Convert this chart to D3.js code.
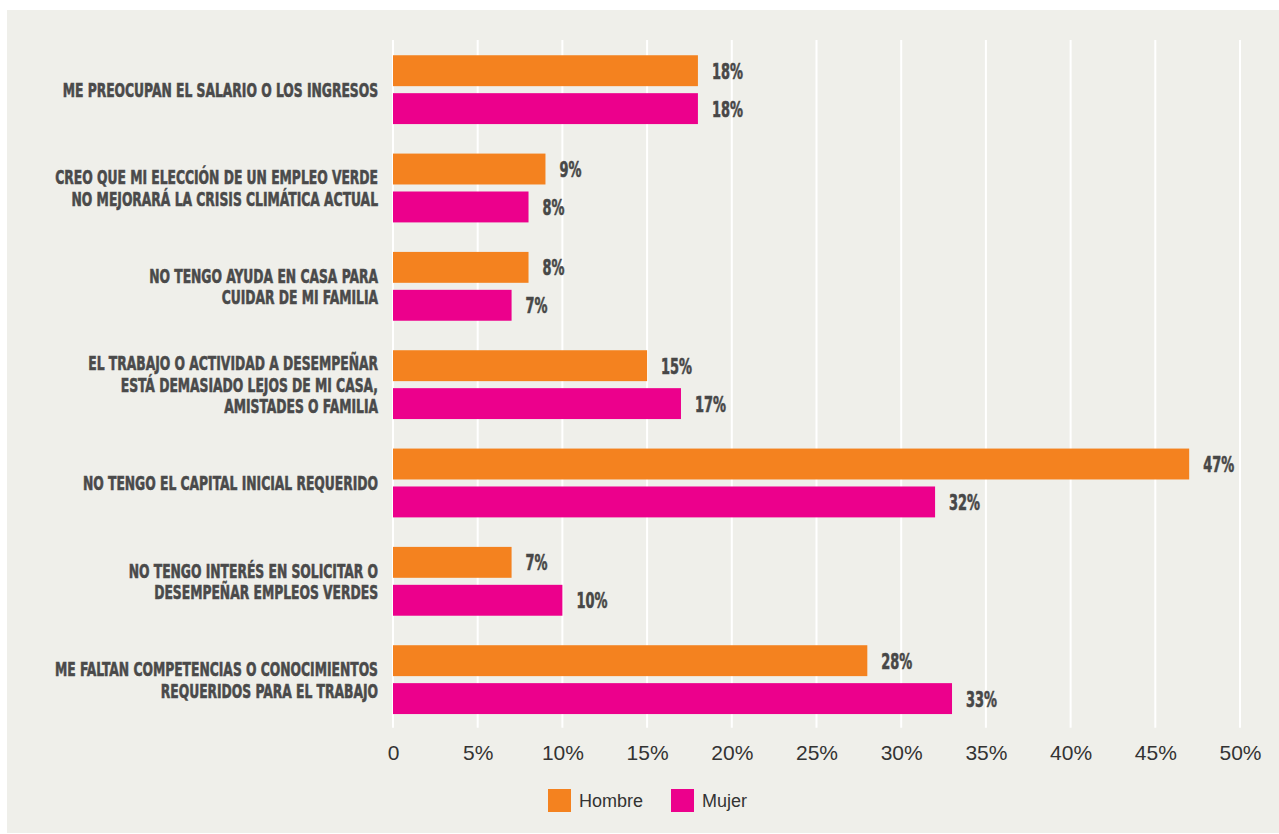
<!DOCTYPE html>
<html lang="es">
<head>
<meta charset="utf-8">
<title>Motivos para no optar a empleos verdes</title>
<script src="https://cdn.jsdelivr.net/npm/d3@7"></script>
<style>
  html, body { margin: 0; padding: 0; background: #ffffff; }
  svg { display: block; }
</style>
</head>
<body>
<svg id="chart" width="1279" height="834"></svg>
<script>
// Survey categories (line breaks marked with "|")
const categories = [
  "ME PREOCUPAN EL SALARIO O LOS INGRESOS",
  "CREO QUE MI ELECCIÓN DE UN EMPLEO VERDE|NO MEJORARÁ LA CRISIS CLIMÁTICA ACTUAL",
  "NO TENGO AYUDA EN CASA PARA|CUIDAR DE MI FAMILIA",
  "EL TRABAJO O ACTIVIDAD A DESEMPEÑAR|ESTÁ DEMASIADO LEJOS DE MI CASA,|AMISTADES O FAMILIA",
  "NO TENGO EL CAPITAL INICIAL REQUERIDO",
  "NO TENGO INTERÉS EN SOLICITAR O|DESEMPEÑAR EMPLEOS VERDES",
  "ME FALTAN COMPETENCIAS O CONOCIMIENTOS|REQUERIDOS PARA EL TRABAJO"
];
const seriesNames = ["Hombre", "Mujer"];
const hombre = [18, 9, 8, 15, 47, 7, 28];
const mujer  = [18, 8, 7, 17, 32, 10, 33];
const tickValues = [0, 5, 10, 15, 20, 25, 30, 35, 40, 45, 50];
const tickLabels = ["0", "5%", "10%", "15%", "20%", "25%", "30%", "35%", "40%", "45%", "50%"];

const colors = { Hombre: "#f4821f", Mujer: "#ec008c" };

const svg = d3.select("#chart");
const W = 1279, H = 834;
const condensed = "'Liberation Sans Narrow', 'DejaVu Sans Condensed', 'Roboto Condensed', sans-serif";

// panel background
svg.append("rect")
  .attr("x", 7).attr("y", 10)
  .attr("width", W - 7).attr("height", H - 11)
  .attr("fill", "#efefea");

const plot = { left: 393, right: 1240, top: 40, bottom: 728.8 };

const x = d3.scaleLinear().domain([0, 50]).range([plot.left, plot.right]);
const y = d3.scaleBand()
  .domain(categories)
  .range([plot.top + 0.5, plot.bottom])
  .paddingInner(0.3)
  .paddingOuter(0.15);
const ySub = d3.scaleBand()
  .domain(seriesNames)
  .range([0, y.bandwidth()])
  .paddingInner(0.185);
const color = d3.scaleOrdinal().domain(seriesNames).range(seriesNames.map(s => colors[s]));

// vertical gridlines
svg.append("g")
  .selectAll("line")
  .data(tickValues)
  .join("line")
  .attr("x1", d => x(d)).attr("x2", d => x(d))
  .attr("y1", plot.top).attr("y2", plot.bottom - 1)
  .attr("stroke", "#ffffff")
  .attr("stroke-width", 2);

// bottom axis labels
const axis = d3.axisBottom(x)
  .tickValues(tickValues)
  .tickSize(0)
  .tickPadding(0)
  .tickFormat((d, i) => tickLabels[i]);
const gAxis = svg.append("g")
  .attr("transform", `translate(0, ${plot.bottom})`)
  .call(axis);
gAxis.select(".domain").remove();
gAxis.selectAll("text")
  .attr("y", 31)
  .attr("dy", null)
  .attr("fill", "#333333")
  .style("font-family", "'Liberation Sans', Arial, Helvetica, sans-serif")
  .style("font-size", "21px");

// rows
const rows = categories.map((c, i) => ({
  category: c,
  values: [
    { series: "Hombre", value: hombre[i] },
    { series: "Mujer", value: mujer[i] }
  ]
}));

const gRow = svg.append("g")
  .selectAll("g.row")
  .data(rows)
  .join("g")
  .attr("class", "row")
  .attr("transform", d => `translate(0, ${y(d.category)})`);

gRow.selectAll("rect")
  .data(d => d.values)
  .join("rect")
  .attr("x", x(0))
  .attr("y", d => ySub(d.series))
  .attr("width", d => x(d.value) - x(0))
  .attr("height", ySub.bandwidth())
  .attr("fill", d => color(d.series));

// value labels (condensed heavy type, squeezed horizontally)
const valTexts = gRow.selectAll("g.val")
  .data(d => d.values)
  .join("g")
  .attr("class", "val")
  .append("text")
  .attr("fill", "#474747")
  .attr("stroke", "#474747")
  .attr("stroke-width", 0.6)
  .style("font-family", condensed)
  .style("font-weight", "bold")
  .style("font-size", "22px")
  .text(d => d.value + "%");

const refVal = valTexts.filter(d => d.value === 18).node();
const valScale = 31 / refVal.getComputedTextLength();
gRow.selectAll("g.val")
  .attr("transform", d => `translate(${x(d.value) + 14}, ${ySub(d.series) + ySub.bandwidth() / 2 + 8}) scale(${valScale}, 1)`);

// category labels
const lineH = 21.6;
const gLab = svg.append("g")
  .selectAll("g.lab")
  .data(categories)
  .join("g")
  .attr("class", "lab");

gLab.append("text")
  .attr("text-anchor", "end")
  .attr("fill", "#4a4a4a")
  .attr("stroke", "#4a4a4a")
  .attr("stroke-width", 0.6)
  .style("font-family", condensed)
  .style("font-weight", "bold")
  .style("font-size", "20px")
  .each(function(d) {
    const lines = d.split("|");
    const t = d3.select(this);
    lines.forEach((ln, k) => {
      t.append("tspan")
        .attr("x", 0)
        .attr("y", (k - (lines.length - 1) / 2) * lineH + 7.2)
        .text(ln);
    });
  });

// squeeze labels so the widest line of the 4th category spans 290px
const refLine = gLab.selectAll("tspan").filter(function() {
  return this.textContent === "EL TRABAJO O ACTIVIDAD A DESEMPEÑAR";
}).node();
const labScale = 290 / refLine.getComputedTextLength();
gLab.attr("transform", d => `translate(378, ${y(d) + y.bandwidth() / 2}) scale(${labScale}, 1)`);

// legend
const legend = svg.append("g").attr("transform", "translate(548, 789)");
const legendX = d3.scalePoint().domain(seriesNames).range([0, 123]);
const li = legend.selectAll("g")
  .data(seriesNames)
  .join("g")
  .attr("transform", d => `translate(${legendX(d)}, 0)`);
li.append("rect")
  .attr("width", 23).attr("height", 23)
  .attr("fill", d => color(d));
li.append("text")
  .attr("x", 31).attr("y", 18)
  .attr("fill", "#333333")
  .style("font-family", "'Liberation Sans', Arial, Helvetica, sans-serif")
  .style("font-size", "18px")
  .text(d => d);
</script>
</body>
</html>
